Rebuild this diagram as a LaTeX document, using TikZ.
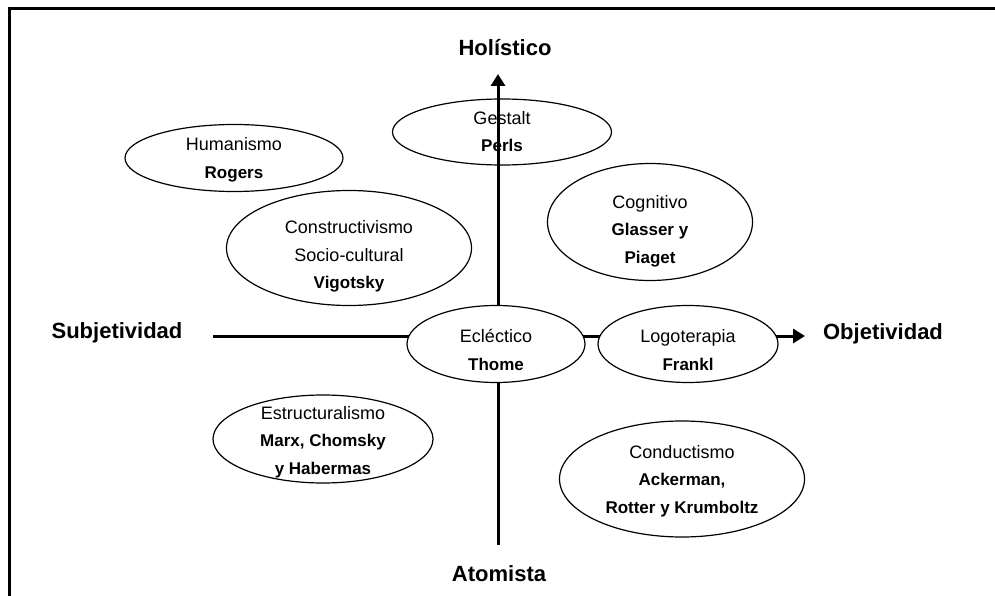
\documentclass[tikz,border=0pt]{standalone}
\usepackage{fontspec}
\setmainfont{Liberation Sans}
\usetikzlibrary{arrows.meta}
\usetikzlibrary{shapes.geometric}

\newcommand{\ovtxt}[2][-5pt]{\smash{\makebox[0pt]{\raisebox{#1}{%
  \renewcommand{\arraystretch}{1.25}\begin{tabular}{@{}c@{}}#2\end{tabular}}}}}
\newcommand{\who}[1]{{\fontsize{17}{22}\selectfont\bfseries #1}}

\begin{document}
\begin{tikzpicture}[x=1pt,y=-1pt,
    oval/.style={ellipse,draw,line width=1.2pt,inner sep=0pt,outer sep=0pt,
      font=\fontsize{18}{22}\selectfont},
    axis/.style={line width=3pt},
    pole/.style={font=\fontsize{22}{26}\selectfont\bfseries}]
  \useasboundingbox (0,0) rectangle (995,596);
  \draw[line width=3pt] (9.5,596) |- (995,8.5);

  % poles
  \node[pole] (hol) at (505,48) {Holístico};
  \node[pole] (ato) at (499,574) {Atomista};
  \node[pole] (sub) at (117,333) {Subjetividad};
  \node[pole] (obj) at (883,334) {Objetividad};

  \coordinate (vtop) at (498,74);
  \coordinate (vbot) at (498,545);
  \coordinate (hleft) at (213,336);
  \coordinate (hright) at (805,336);

  % Gestalt lies under the axis
  \node[oval,minimum width=219pt,minimum height=66pt] (ges) at (502,132)
    {\ovtxt{Gestalt\\\who{Perls}}};

  \draw[axis,-{Triangle[length=12pt,width=14pt]}] (vbot) -- (vtop);
  \draw[axis,-{Triangle[length=12pt,width=14pt]}] (hleft) -- (hright);

  \node[oval,fill=white,minimum width=218pt,minimum height=67pt] (hum) at (234,158)
    {\ovtxt[-5.5pt]{Humanismo\\\who{Rogers}}};
  \node[oval,fill=white,minimum width=245pt,minimum height=115pt] (con) at (349,248)
    {\ovtxt[-12pt]{Constructivismo\\Socio-cultural\\\who{Vigotsky}}};
  \node[oval,fill=white,minimum width=205pt,minimum height=117pt] (cog) at (650,222)
    {\ovtxt[-12.5pt]{Cognitivo\\\who{Glasser y}\\\who{Piaget}}};
  \node[oval,fill=white,minimum width=178pt,minimum height=77pt] (ecl) at (496,344)
    {\ovtxt[-11.5pt]{Ecléctico\\\who{Thome}}};
  \node[oval,fill=white,minimum width=180pt,minimum height=77pt] (log) at (688,344)
    {\ovtxt[-11.5pt]{Logoterapia\\\who{Frankl}}};
  \node[oval,fill=white,minimum width=220pt,minimum height=88pt] (est) at (323,439)
    {\ovtxt[-6.5pt]{Estructuralismo\\\who{Marx, Chomsky}\\\who{y Habermas}}};
  \node[oval,fill=white,minimum width=245pt,minimum height=116pt] (cnd) at (682,479)
    {\ovtxt[-5.5pt]{Conductismo\\\who{Ackerman,}\\\who{Rotter y Krumboltz}}};
\end{tikzpicture}
\end{document}
